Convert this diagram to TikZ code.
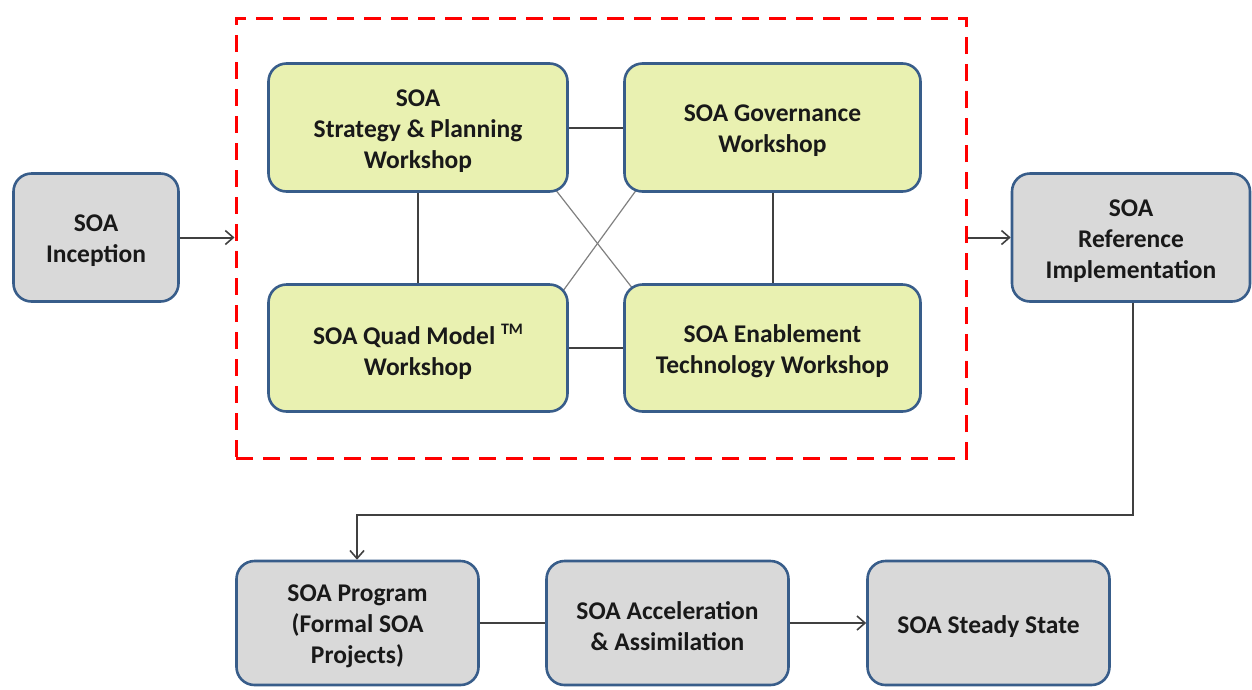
\documentclass[tikz,border=0pt]{standalone}
\usepackage{fontspec}
\setmainfont{Carlito}
\usetikzlibrary{arrows.meta,calc}
\pgfdeclarelayer{bg}
\pgfsetlayers{bg,main}
\definecolor{boxblue}{RGB}{56,93,138}
\definecolor{boxgray}{RGB}{217,217,217}
\definecolor{boxgreen}{RGB}{233,241,177}
\definecolor{linegray}{RGB}{64,64,64}
\definecolor{txt}{RGB}{25,25,25}
\tikzset{
  lbl/.style={align=center, font=\fontsize{25.5}{31}\selectfont\bfseries, text=txt, inner sep=0pt, yshift=-3.5pt},
  base/.style={draw=boxblue, line width=2.6pt, rounded corners=18pt, inner sep=0pt,
    label={[lbl]center:#1}},
  graybox/.style={base={#1}, fill=boxgray},
  greenbox/.style={base={#1}, fill=boxgreen},
  conn/.style={draw=linegray, line width=2pt},
  arr/.style={conn, -{Straight Barb[length=8pt,width=14pt,line width=1.6pt]}},
  diag/.style={draw=gray, line width=1.2pt},
  grpbox/.style={draw=red, line width=3pt, dash pattern=on 17pt off 10pt, minimum width=730pt, minimum height=440pt}
}
\begin{document}
\begin{tikzpicture}[x=1pt,y=-1pt]
\useasboundingbox (0,0) rectangle (1252,689);
\node[grpbox] (grp) at (601,238) {};
\node[graybox={SOA\\Inception}, minimum width=165pt, minimum height=128pt] (inc) at (96,237.5) {};
\node[graybox={SOA\\Reference\\Implementation}, minimum width=238pt, minimum height=128pt] (ref) at (1131,237.5) {};
\node[greenbox={SOA\\Strategy \& Planning\\Workshop}, minimum width=299pt, minimum height=128pt] (b1) at (418,127.5) {};
\node[greenbox={SOA Governance\\Workshop}, minimum width=296pt, minimum height=128pt] (b2) at (772.5,127.5) {};
\node[greenbox={SOA Quad Model \raisebox{0.4em}{\fontsize{16}{16}\selectfont TM}\\Workshop}, minimum width=299pt, minimum height=127pt] (b3) at (418,348) {};
\node[greenbox={SOA Enablement\\Technology Workshop}, minimum width=296pt, minimum height=127pt] (b4) at (772.5,348) {};
\node[graybox={SOA Program\\(Formal SOA\\Projects)}, minimum width=242pt, minimum height=124pt] (prog) at (357.5,623) {};
\node[graybox={SOA Acceleration\\\& Assimilation}, minimum width=242pt, minimum height=124pt] (acc) at (667.5,623) {};
\node[graybox={SOA Steady State}, minimum width=242pt, minimum height=124pt] (std) at (988.5,623) {};
\coordinate (c1) at (1133,515);
\coordinate (c2) at (357,515);
\begin{pgfonlayer}{bg}
  \draw[conn] (b1.east) -- (b2.west);
  \draw[conn] (b3.east) -- (b4.west);
  \draw[conn] (b1.south) -- (b3.north);
  \draw[conn] (b2.south) -- (b4.north);
  \draw[diag] ($(b1.south east)+(-14,-4)$) -- ($(b4.north west)+(10,6)$);
  \draw[diag] ($(b2.south west)+(14,-4)$) -- ($(b3.north east)+(-6,8)$);
\end{pgfonlayer}
\draw[arr] (inc.east) -- (grp.west |- inc.east);
\draw[arr] (grp.east |- ref.west) -- (ref.west);
\draw[arr] (ref.south -| c1) -- (c1) -- (c2) -- (c2 |- prog.north);
\draw[conn] (prog.east) -- (acc.west);
\draw[arr] (acc.east) -- (std.west);
\end{tikzpicture}
\end{document}
